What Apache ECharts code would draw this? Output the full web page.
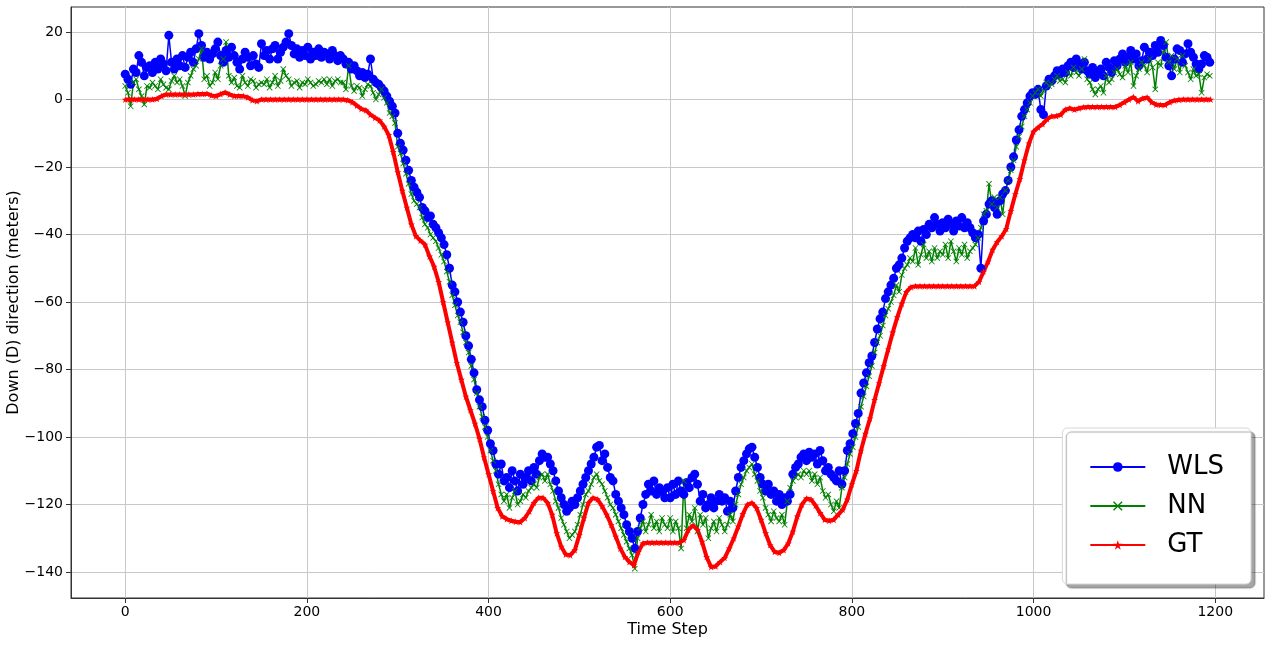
<!DOCTYPE html>
<html>
<head>
<meta charset="utf-8">
<script src="https://cdn.jsdelivr.net/npm/echarts@6/dist/echarts.min.js"></script>
<style>
  html, body { margin: 0; padding: 0; background: #fff; }
  #chart { width: 1271px; height: 645px; }
</style>
</head>
<body>
<div id="chart"></div>
<script>
// time steps: estimates sampled every 3 steps, ground truth every 5
const estSteps = [];
for (let t = 0; t <= 1194; t += 3) estSteps.push(t);
const gtSteps = [];
for (let t = 0; t <= 1195; t += 5) gtSteps.push(t);

// tick values
const xTicks = [0, 200, 400, 600, 800, 1000, 1200];
const yTicks = [20, 0, -20, -40, -60, -80, -100, -120, -140];

// WLS estimate (blue), one row = 30 time steps
const wls = [
  7.5, 6, 4.5, 9, 8, 13, 11, 7, 9.5, 10,
  8, 11, 9, 12, 10.5, 8.5, 19, 11, 9, 12,
  10, 13, 9.5, 12.5, 14, 11, 15, 19.5, 16, 12.5,
  14, 12, 13.5, 15, 17, 13, 11, 14.5, 12.5, 15.5,
  13, 11, 9, 12, 14, 12.5, 10, 13, 10.5, 9.5,
  16.5, 13, 14.5, 12, 15, 16, 12, 14, 15.5, 17,
  19.5, 16, 13.5, 15, 12.5, 14.5, 13, 15.5, 12, 14,
  13, 15, 12.5, 14, 13.5, 12, 14.5, 13, 11.5, 13,
  12, 10.5, 11, 9, 10, 8.5, 7, 8, 6.5, 7.5,
  12, 6, 5, 4.5, 3.5, 2.5, 1, -0.5, -2, -4,
  -10, -13, -15, -18, -21, -24, -26, -27.5, -29, -32,
  -33, -35, -34.5, -37, -38, -39.5, -41, -43, -46, -50,
  -55, -57, -60, -63, -66, -70, -73, -77, -81, -86,
  -89, -91, -95, -98, -102, -104, -108, -111, -108, -113,
  -112, -115, -110, -113, -116, -111, -114, -112, -110, -113,
  -109, -111, -107, -105, -106, -106, -108, -110, -113, -116,
  -118, -120, -122, -121, -119, -120, -118, -116, -114, -112,
  -110, -108, -106, -103, -102.5, -107, -105, -109, -112, -113,
  -117, -119, -121, -123, -126, -128, -130, -133, -128, -124,
  -120, -117, -114, -116, -113, -117, -115, -116, -118, -115,
  -118, -114, -117, -113, -116, -117, -113.5, -115, -112, -111,
  -114, -119, -117, -121, -120, -118, -121, -119, -117, -119,
  -118, -122, -119, -121, -116, -112, -109, -107, -105, -103.5,
  -103, -106, -109, -112, -114, -116, -114, -117, -116, -119,
  -117, -120, -118, -119, -117, -111, -109, -108, -106, -105,
  -107, -104.5, -106, -105, -108, -104, -107, -110, -109, -111,
  -112, -113, -110, -114, -110, -104, -102, -99, -96, -93,
  -87, -84, -81, -78, -76, -72, -68, -65, -63, -59,
  -57, -55, -53, -50, -49, -47, -44, -42, -41, -40,
  -41, -39, -42, -38.5, -40, -37, -38, -35, -37, -39,
  -36.5, -38, -35.5, -37, -39, -36, -37.5, -35, -38, -36.5,
  -38, -39.5, -41, -40, -50, -36, -34, -31, -30, -32,
  -34, -30, -28, -27, -24, -20, -17, -12, -9, -5,
  -3, -1, 1, 2, 1.5, 3, -3, -4.5, 4, 6,
  5.5, 7, 8.5, 7.5, 9, 8, 10, 11, 9.5, 12,
  10.5, 9, 11, 8.5, 7.5, 9.5, 6.5, 8, 9, 7,
  11, 9.5, 8, 11.5, 10, 12, 13.5, 11, 12.5, 14.5,
  12, 13.5, 10, 11.5, 15.5, 12, 14, 13, 16, 14,
  17.5, 16, 12.5, 10, 7, 12, 15, 14.5, 11, 13.5,
  16.5, 14, 12.5, 10.5, 9, 10.5, 13, 12.5, 11
];

// neural network estimate (green), one row = 30 time steps
const nn = [
  4, 2, -2, 5, 6, 3, 1, -1.5, 4, 3.5,
  5, 4, 3, 6, 4.5, 3.5, 3, 5.5, 7, 5,
  6, 4, 1, 5, 7, 9, 10, 12, 15, 6,
  7, 4, 5, 8, 6, 10, 12, 17, 7, 5,
  6.5, 4, 3.5, 7, 5, 4, 6, 5.5, 3.5, 4.5,
  5, 4.5, 6, 3.5, 5, 7, 4, 5.5, 9, 7,
  6, 4, 5, 5.5, 3.5, 5, 4.5, 6, 5, 4,
  4.5, 5.5, 5, 6, 4.5, 6, 4, 5.5, 6, 5,
  5, 3, 10, 4, 2.5, 4, 3.5, 1, 3, 4.5,
  4, 2, 0, 1.5, 3, 0.5, -1, -4, -5, -7,
  -14, -16, -19, -22, -25, -28, -30, -31, -32, -35,
  -37, -38, -40, -41, -42, -44, -46, -48, -51, -54,
  -58, -61, -64, -66, -69, -72, -75, -79, -83, -87,
  -91, -94, -97, -100, -104, -107, -110, -114, -117, -119,
  -117, -121, -118, -116, -120, -119, -117, -118, -116, -115,
  -114, -115, -112, -111, -113, -111, -114, -116, -119, -121,
  -124, -126, -128, -130, -129, -128, -126, -123, -120, -117,
  -116, -114, -112, -111, -113, -114, -116, -118, -120, -121,
  -123, -125, -127, -129, -131, -133, -135, -139, -130, -127,
  -125, -128, -126, -123, -127, -125, -128, -124, -126, -127,
  -124, -128, -125, -127, -133, -113, -127, -123, -125, -121,
  -128, -123, -126, -124, -130, -127, -125, -128, -124, -126,
  -128, -126, -123, -125, -120, -117, -114, -112, -110, -109,
  -108, -111, -113, -116, -118, -121, -123, -125, -122, -124,
  -125, -123, -126, -119, -115, -113, -112, -111, -112, -110,
  -111, -110, -113, -111, -114, -112, -116, -118, -117, -120,
  -122, -119, -121, -115, -112, -108, -105, -103, -100, -97,
  -91, -88, -85, -82, -79, -75, -72, -70, -67, -64,
  -62, -60, -58, -55, -57, -52, -50, -49, -47, -48,
  -44, -49, -46, -43, -47, -45, -48, -44, -47, -45,
  -46, -43, -47, -42, -45, -48, -44, -46, -43, -47,
  -45, -44, -43, -41, -38, -34, -33, -25, -31, -29,
  -32, -29, -34, -27, -24, -21, -18, -14, -11, -8,
  -5, -3, -1, 1, 2, 3, 1, 2.5, 5, 4,
  4.5, 6, 7, 5.5, 6, 5, 8, 7, 9.5, 8,
  7, 9, 12, 6, 5, 3, 1.5, 3, 4, 2,
  7, 5, 6, 8, 9, 7.5, 6.5, 10, 8, 11,
  4, 7, 9, 11, 10, 8, 12, 9.5, 3, 11,
  10, 14, 17, 11, 13, 9, 12, 8, 13, 10,
  8, 6, 9, 7, 7.5, 2, 6.5, 7.5, 7
];

// ground truth (red), one row = 50 time steps
const gt = [
  0, 0, 0, 0, 0, 0, 0, 0.2, 1, 1.5,
  1.5, 1.5, 1.5, 1.5, 1.5, 1.5, 1.6, 1.6, 1.7, 1.2,
  1, 1.6, 2.1, 1.5, 1, 1, 1, 0.6, -0.2, -0.5,
  0, 0, 0, 0, 0, 0, 0, 0, 0, 0,
  0, 0, 0, 0, 0, 0, 0, 0, 0, -0.2,
  -0.8, -1.8, -2.8, -3.2, -4.5, -5.4, -6.2, -8, -10.5, -15.5,
  -21.5, -27, -32, -37, -40.5, -41.8, -43, -46.5, -49.5, -54,
  -60, -66, -72, -78, -83, -88, -92, -96, -100.5, -106,
  -111, -116, -121, -123.5, -124.3, -124.8, -125.1, -125.2, -124, -122,
  -119.5, -118, -118, -119.5, -123, -128.5, -132.5, -134.8, -135, -133.5,
  -129, -124, -119.5, -118, -118.5, -120.5, -123, -126, -129.5, -133,
  -135.5, -137, -138, -134, -131.5, -131.3, -131.3, -131.3, -131.3, -131.3,
  -131.3, -131.3, -131.3, -130.5, -127.5, -126.2, -127.5, -131, -135.5, -138.5,
  -138.3, -137, -135.8, -133, -130, -126.5, -122.8, -120, -119.5, -121,
  -124.5, -128.5, -132, -134, -134.3, -133.5, -131.5, -128, -123.5, -120,
  -118.2, -118.5, -120.3, -122.5, -124.5, -124.8, -124.5, -123, -121.5, -118.5,
  -114, -110, -104, -99, -94.5, -89, -84, -79, -74, -69,
  -64.5, -60.5, -57, -55.6, -55.3, -55.3, -55.3, -55.3, -55.3, -55.3,
  -55.3, -55.3, -55.3, -55.3, -55.3, -55.3, -55.3, -55.3, -54, -51,
  -48, -44.5, -42.2, -40.5, -38.3, -33, -28, -23.5, -18, -13,
  -9.5, -8.3, -7.3, -5.8, -5, -4.9, -4.5, -3, -2.6, -3,
  -2.6, -2.3, -2.2, -2.2, -2.2, -2.2, -2.2, -2.2, -2.2, -1.6,
  -0.8, 0, 0.7, -0.5, 0.3, 0.6, -0.8, -1.5, -1.6, -1.6,
  -0.8, -0.3, -0.1, 0, 0, 0, 0, 0, 0, 0
];

const pairs = (ts, ys) => ts.map((t, i) => [t, ys[i]]);
const minus = (v) => (v < 0 ? '\u2212' + Math.abs(v) : String(v));

// matplotlib-like markers
const xMarker = 'path://M0,1L1,0L5,4L9,0L10,1L6,5L10,9L9,10L5,6L1,10L0,9L4,5Z';
const starMarker = 'path://M5,0L6.2,3.6L10,3.6L6.9,5.9L8.1,9.5L5,7.3L1.9,9.5L3.1,5.9L0,3.6L3.8,3.6Z';

const font = 'DejaVu Sans';
const myChart = echarts.init(document.getElementById('chart'));

const option = {
  animation: false,
  backgroundColor: '#fff',
  grid: {
    left: 71, right: 7, top: 7, bottom: 47,
    outerBoundsMode: 'none',
    containLabel: false,
    show: true, borderColor: '#333', borderWidth: 1,
  },
  legend: {
    orient: 'vertical',
    right: 20,
    top: 428,
    padding: [24, 27, 24, 27],
    itemWidth: 55,
    itemHeight: 12,
    itemGap: 9,
    backgroundColor: '#fff',
    borderColor: '#d6d6d6',
    borderWidth: 1,
    borderRadius: 5,
    shadowColor: 'rgba(0,0,0,0.35)',
    shadowBlur: 1,
    shadowOffsetX: 4,
    shadowOffsetY: 4,
    textStyle: { fontFamily: font, fontSize: 26, color: '#000', padding: [0, 0, 0, 17], lineHeight: 30 },
    data: ['WLS', 'NN', 'GT'],
  },
  xAxis: {
    type: 'value',
    min: -59.7,
    max: 1253.7,
    name: 'Time Step',
    nameLocation: 'middle',
    nameGap: 24,
    nameMoveOverlap: false,
    nameTextStyle: { fontFamily: font, fontSize: 16, color: '#000' },
    axisLine: { show: true, onZero: false, lineStyle: { color: '#333' } },
    axisTick: { show: true, length: 5, customValues: xTicks, lineStyle: { color: '#333' } },
    axisLabel: { customValues: xTicks, fontFamily: font, fontSize: 14, color: '#000', margin: 7, formatter: minus },
    splitLine: { show: true, lineStyle: { color: '#c8c8c8', width: 1 } },
  },
  yAxis: {
    type: 'value',
    min: -147.7,
    max: 27.4,
    name: 'Down (D) direction (meters)',
    nameLocation: 'middle',
    nameGap: 49,
    nameRotate: 90,
    nameMoveOverlap: false,
    nameTextStyle: { fontFamily: font, fontSize: 16, color: '#000' },
    axisLine: { show: true, onZero: false, lineStyle: { color: '#333' } },
    axisTick: { show: true, length: 5, customValues: yTicks, lineStyle: { color: '#333' } },
    axisLabel: { customValues: yTicks, fontFamily: font, fontSize: 14, color: '#000', margin: 8, formatter: minus },
    splitLine: { show: true, lineStyle: { color: '#c8c8c8', width: 1 } },
  },
  series: [
    {
      name: 'WLS',
      type: 'line',
      data: pairs(estSteps, wls),
      symbol: 'circle',
      symbolSize: 9,
      showAllSymbol: true,
      lineStyle: { color: '#0000ff', width: 1.5 },
      itemStyle: { color: '#0000ff' },
    },
    {
      name: 'NN',
      type: 'line',
      data: pairs(estSteps, nn),
      symbol: xMarker,
      symbolSize: 6,
      showAllSymbol: true,
      lineStyle: { color: '#008000', width: 1.5 },
      itemStyle: { color: '#008000' },
    },
    {
      name: 'GT',
      type: 'line',
      data: pairs(gtSteps, gt),
      symbol: starMarker,
      symbolSize: 7,
      showAllSymbol: true,
      lineStyle: { color: '#ff0000', width: 4 },
      itemStyle: { color: '#ff0000' },
    },
  ],
};

myChart.setOption(option);
</script>
</body>
</html>
